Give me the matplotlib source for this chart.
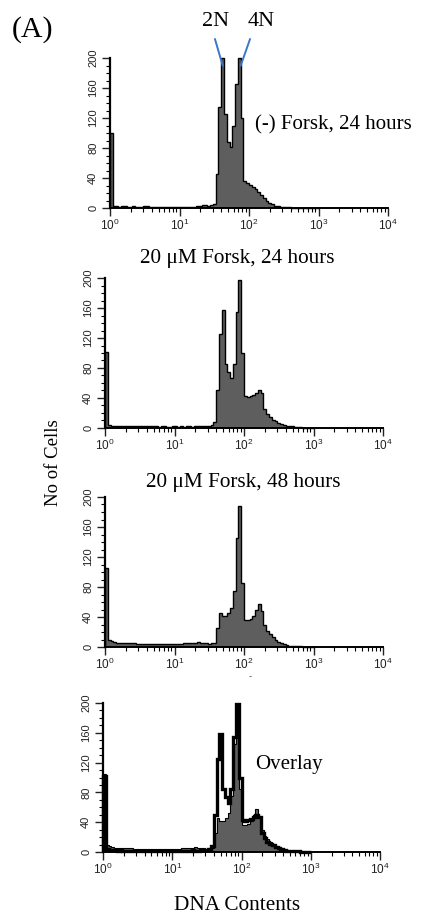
import numpy as np
import matplotlib.pyplot as plt
from matplotlib.ticker import MultipleLocator, LogLocator

plt.rcParams['font.family'] = 'Liberation Sans'

# histogram bins: 25 per decade on log10(DNA content), from 10^0 to 10^3
edges = 10 ** np.linspace(0, 3, 76)

# (-) Forsk, 24 hours
counts_ctrl = [100, 3, 3, 2, 3, 3, 2, 2, 3, 2, 2, 2, 3, 3, 2, 2, 2, 2, 2, 2,
               2, 2, 2, 2, 2, 2, 2, 2, 2, 2, 2, 3, 3, 4, 4, 3, 4, 6, 45, 135,
               200, 125, 88, 82, 110, 165, 200, 120, 36, 33, 31, 28, 25, 22, 18, 14, 10, 7, 5, 3,
               3, 2, 2, 1, 1, 0, 0, 0, 0, 0, 0, 0, 0, 0, 0]

# 20 uM Forsk, 24 hours
counts_24h = [102, 4, 3, 3, 3, 2, 3, 2, 2, 2, 2, 2, 2, 2, 2, 2, 2, 2, 2, 1,
              2, 2, 1, 1, 2, 2, 1, 2, 1, 2, 2, 1, 3, 2, 2, 3, 3, 3, 4, 8,
              50, 125, 158, 85, 74, 66, 85, 155, 198, 100, 43, 41, 43, 44, 47, 50, 47, 25, 19, 14,
              11, 9, 7, 5, 4, 3, 2, 2, 1, 1, 1, 0, 0, 0, 0]

# 20 uM Forsk, 48 hours
counts_48h = [105, 9, 8, 7, 6, 6, 5, 6, 5, 5, 5, 4, 4, 4, 4, 4, 4, 4, 4, 4,
              4, 4, 4, 4, 4, 4, 4, 4, 5, 5, 5, 6, 6, 7, 6, 5, 5, 4, 5, 5,
              25, 45, 42, 42, 46, 52, 75, 145, 188, 85, 36, 36, 38, 42, 50, 58, 48, 30, 22, 18,
              14, 10, 7, 5, 4, 3, 2, 2, 1, 1, 1, 0, 0, 0, 0]

fill_col = '#5e5e5e'
serif = 'Liberation Serif'

fig = plt.figure(figsize=(4.24, 9.23), dpi=100)

boxes = [
    [110/424, 1 - 208/923, 278/424, 150/923],
    [105/424, 1 - 428/923, 278/424, 150/923],
    [105/424, 1 - 647/923, 278/424, 150/923],
    [103/424, 1 - 852/923, 277/424, 149/923],
]

axes = []
for b in boxes:
    ax = fig.add_axes(b)
    ax.set_xscale('log')
    ax.set_xlim(1, 1e4)
    ax.set_ylim(0, 200)
    ax.spines['top'].set_visible(False)
    ax.spines['right'].set_visible(False)
    ax.spines['left'].set_linewidth(1.6)
    ax.spines['bottom'].set_linewidth(1.4)
    ax.set_yticks([0, 40, 80, 120, 160, 200])
    ax.yaxis.set_minor_locator(MultipleLocator(10))
    ax.xaxis.set_major_locator(LogLocator(base=10, numticks=10))
    ax.xaxis.set_minor_locator(LogLocator(base=10, subs=np.arange(2, 10), numticks=20))
    ax.tick_params(axis='both', which='major', length=5.5, width=1.0, direction='out',
                   labelsize=8.5, colors='#222222')
    ax.tick_params(axis='both', which='minor', length=3.0, width=0.8, direction='out')
    ax.tick_params(axis='y', labelsize=8, pad=3)
    ax.tick_params(axis='x', pad=1.5)
    for lab in ax.get_yticklabels():
        lab.set_rotation(90)
        lab.set_va('center')
    axes.append(ax)

ax1, ax2, ax3, ax4 = axes

def draw_hist(ax, counts, lw=1.0, fill=True):
    if fill:
        ax.stairs(counts, edges, baseline=0, fill=True, color=fill_col, lw=0, clip_on=False)
    ax.stairs(counts, edges, baseline=0, color='black', lw=lw, clip_on=False)

draw_hist(ax1, counts_ctrl)
draw_hist(ax2, counts_24h)
draw_hist(ax3, counts_48h)
draw_hist(ax4, counts_48h, lw=0.8)
draw_hist(ax4, counts_24h, lw=2.4, fill=False)

# 2N / 4N markers
ax1.plot([10**1.511, 10**1.621], [225, 190], color='#3a78c8', lw=1.4, clip_on=False)
ax1.plot([10**2.014, 10**1.881], [225, 190], color='#3a78c8', lw=1.4, clip_on=False)
ax1.text(10**1.512, 248, '2N', family=serif, fontsize=16, ha='center', va='center')
ax1.text(10**2.18, 248, '4N', family=serif, fontsize=16, ha='center', va='center')
ax1.text(10**2.086, 111, '(-) Forsk, 24 hours', family=serif, fontsize=15,
         ha='left', va='center')

fig.text(12/424, 1 - 30/923, '(A)', family=serif, fontsize=21.5, ha='left', va='center')
fig.text(237/424, 1 - 258/923, '20 \u03bcM Forsk, 24 hours', family=serif, fontsize=15.3,
         ha='center', va='center')
fig.text(243/424, 1 - 482/923, '20 \u03bcM Forsk, 48 hours', family=serif, fontsize=15.3,
         ha='center', va='center')
fig.text(255/424, 1 - 765/923, 'Overlay', family=serif, fontsize=15, ha='left', va='center')
fig.text(53/424, 1 - 463/923, 'No of Cells', family=serif, fontsize=13.5, rotation=90,
         ha='center', va='center')
fig.text(237/424, 1 - 905/923, 'DNA Contents', family=serif, fontsize=15.3, ha='center',
         va='center')
fig.text(250/424, 1 - 676/923, '-', fontsize=7, color='#555555', ha='center', va='center')

fig.savefig('out.png', dpi=100)
